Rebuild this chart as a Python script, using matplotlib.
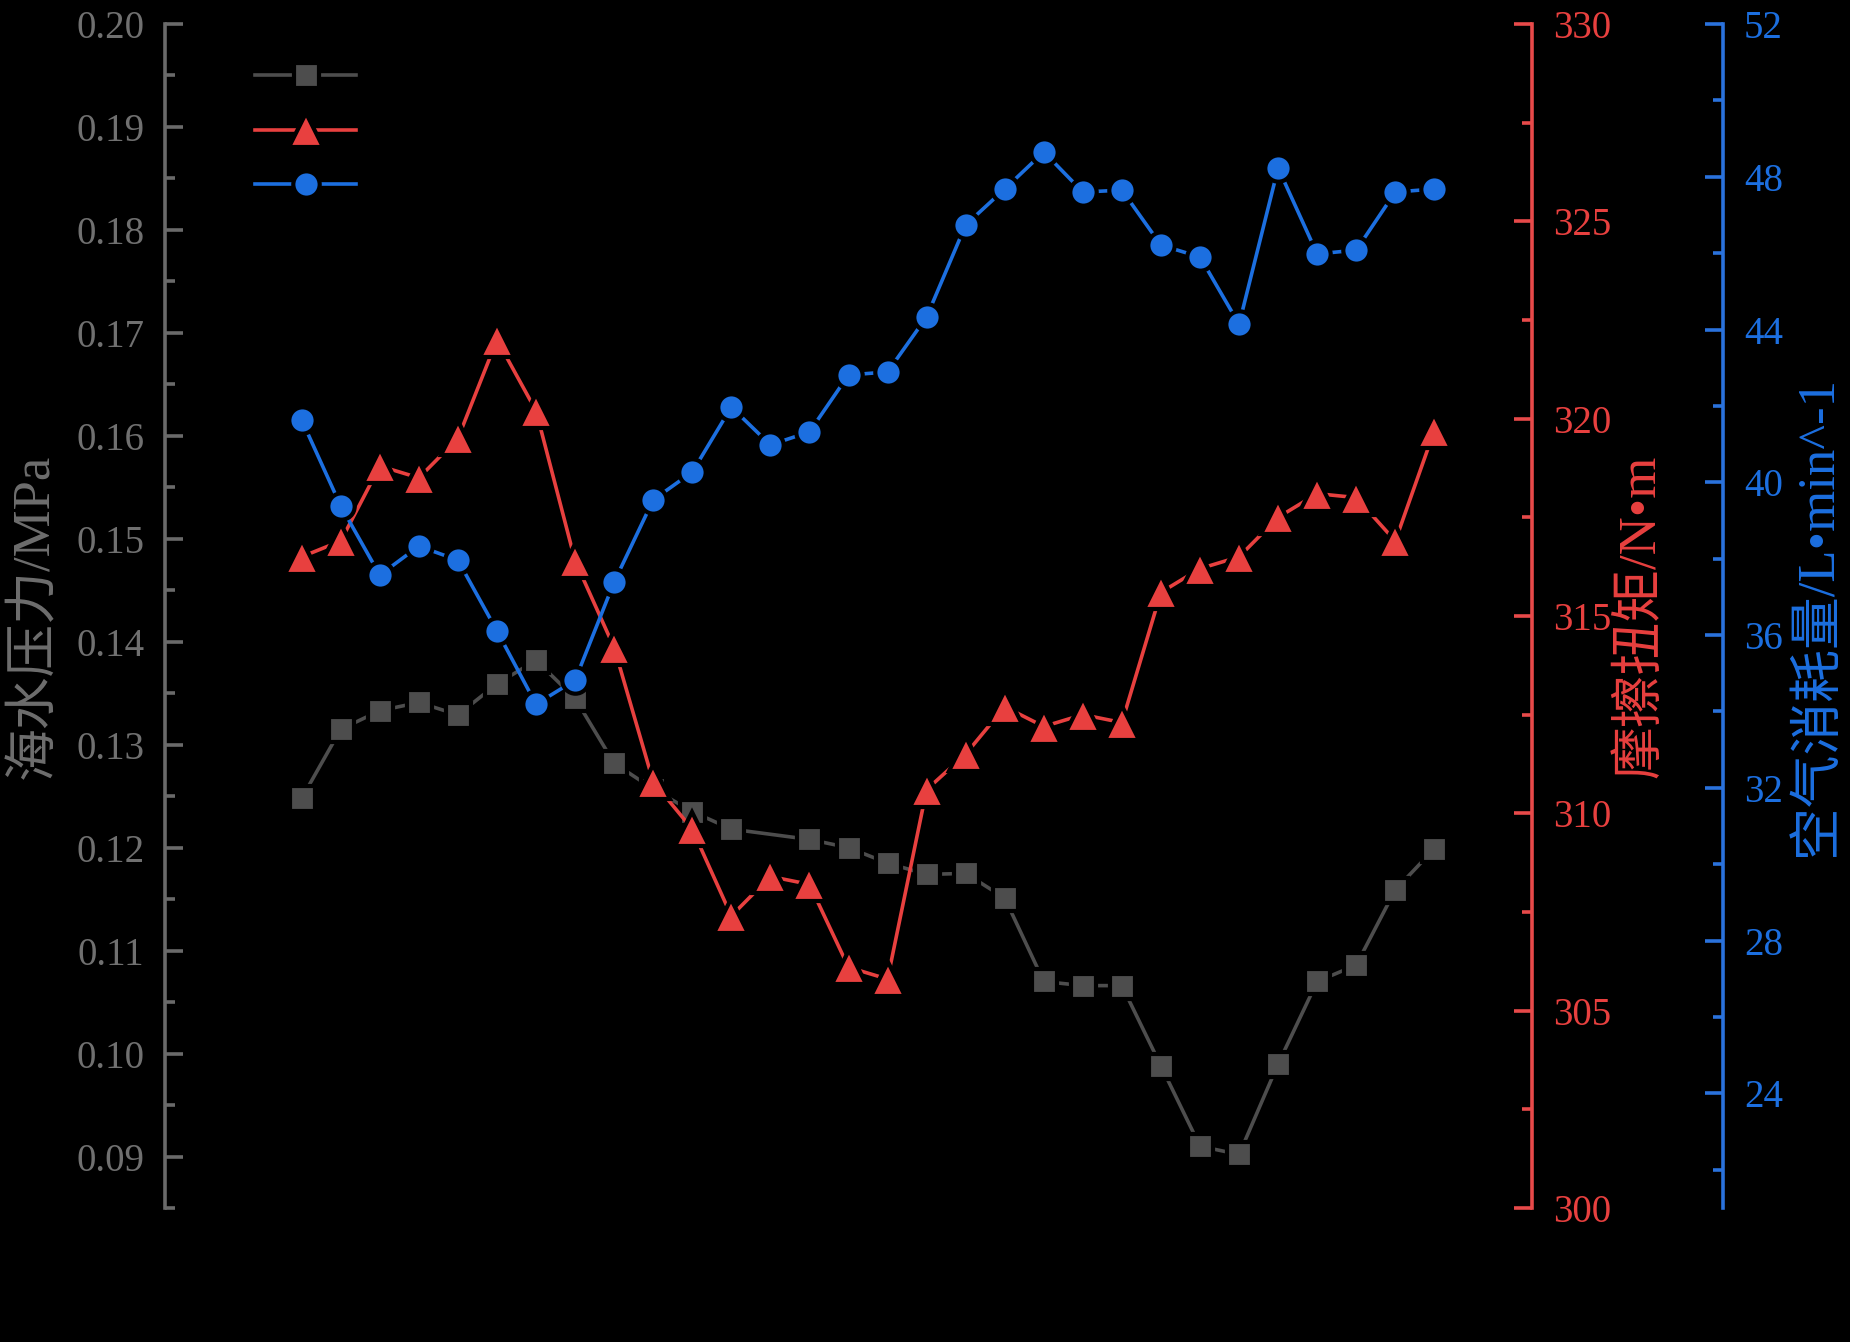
import matplotlib
matplotlib.use('Agg')
import matplotlib.pyplot as plt
from matplotlib.ticker import MultipleLocator

# sample index (x axis is not shown in the figure)
sample = list(range(1, 31))

# sea water pressure, MPa (point 13 not recorded)
pressure = [0.1248, 0.1315, 0.1333, 0.1341, 0.1329, 0.1359, 0.1382, 0.1345, 0.1282, 0.1257,
            0.1235, 0.1218, None, 0.1208, 0.1200, 0.1185, 0.1174, 0.1175, 0.1151, 0.1070,
            0.1066, 0.1066, 0.0988, 0.0910, 0.0902, 0.0990, 0.1070, 0.1086, 0.1159, 0.1199]

# friction torque, N*m
torque = [316.5, 316.9, 318.8, 318.5, 319.5, 322.0, 320.2, 316.4, 314.2, 310.8,
          309.6, 307.4, 308.4, 308.2, 306.1, 305.8, 310.6, 311.5, 312.7, 312.2,
          312.5, 312.3, 315.6, 316.2, 316.5, 317.5, 318.1, 318.0, 316.9, 319.7]

# air consumption, L/min
air = [41.63, 39.38, 37.57, 38.33, 37.96, 36.11, 34.19, 34.82, 37.39, 39.54,
       40.27, 41.97, 40.98, 41.32, 42.81, 42.89, 44.33, 46.74, 47.68, 48.65,
       47.60, 47.65, 46.21, 45.90, 44.14, 48.23, 45.98, 46.08, 47.60, 47.68]

gray = '#4d4d4d'
red = '#e8403f'
blue = '#1c6fe0'
gray_ax = '#6a6a6a'
red_ax = '#e84a4a'
blue_ax = '#2a72dc'

serif = ['Liberation Serif', 'Noto Sans CJK SC']
plt.rcParams['font.family'] = serif

W, H = 1850, 1342
fig = plt.figure(figsize=(W / 100, H / 100), dpi=100, facecolor='black')
rect = [165 / W, 1 - 1208 / H, (1532 - 165) / W, (1208 - 24) / H]
ax = fig.add_axes(rect)
ax.set_facecolor('none')
ax_t = ax.twinx()
ax_a = ax.twinx()

# pressure series, skip the missing point
px = [s for s, v in zip(sample, pressure) if v is not None]
py = [v for v in pressure if v is not None]

gap = 3
l1, = ax.plot(px, py, color=gray, lw=2.6, marker='s', ms=18, mfc=gray, mec='black', mew=gap)
l2, = ax_t.plot(sample, torque, color=red, lw=2.6, marker='^', ms=24, mfc=red, mec='black', mew=gap)
l3, = ax_a.plot(sample, air, color=blue, lw=2.6, marker='o', ms=19, mfc=blue, mec='black', mew=gap)

ax.set_xlim(-2.5, 32.5)
ax.set_ylim(0.085, 0.20)
ax_t.set_ylim(300, 330)
ax_a.set_ylim(21, 52)

ax.yaxis.set_major_locator(MultipleLocator(0.01))
ax.yaxis.set_minor_locator(MultipleLocator(0.005))
ax.yaxis.set_major_formatter(plt.FuncFormatter(lambda v, p: f'{v:.2f}'))
ax_t.yaxis.set_major_locator(MultipleLocator(5))
ax_t.yaxis.set_minor_locator(MultipleLocator(2.5))
ax_a.yaxis.set_major_locator(MultipleLocator(4))
ax_a.yaxis.set_minor_locator(MultipleLocator(2))

for a in (ax, ax_t, ax_a):
    for s in a.spines.values():
        s.set_visible(False)
    a.set_xticks([])

ax_a.spines['right'].set_position(('axes', (1723 - 165) / (1532 - 165)))

for a, side, c, tc in ((ax, 'left', gray_ax, '#707070'), (ax_t, 'right', red_ax, red), (ax_a, 'right', blue_ax, blue)):
    a.spines[side].set_visible(True)
    a.spines[side].set_color(c)
    a.spines[side].set_linewidth(2.6)
    a.tick_params(axis='y', which='major', direction='in', length=13, width=2.6, color=c,
                  labelcolor=tc, labelsize=28, pad=15)
    a.tick_params(axis='y', which='minor', direction='in', length=7, width=2.6, color=c)

lab = dict(fontsize=38, family=serif)
ax.set_ylabel('海水压力/MPa', color='#6e6e6e', **lab)
ax.yaxis.set_label_coords(-0.077, 0.5)
ax_t.set_ylabel('摩擦扭矩/N•m', color=red, **lab)
ax_t.yaxis.set_label_coords(1.062, 0.5)
ax_a.set_ylabel('空气消耗量/L•min^-1', color=blue, **lab)
ax_a.yaxis.set_label_coords(1.191, 0.5)

ax_a.legend([l1, l2, l3], [' ', ' ', ' '], loc='upper left', bbox_to_anchor=(0.066, 0.968),
            frameon=False, fontsize=27, handlelength=2.7, borderpad=0, borderaxespad=0,
            labelspacing=0.53, handletextpad=0.3)

fig.savefig('out.png', dpi=100, facecolor='black')
